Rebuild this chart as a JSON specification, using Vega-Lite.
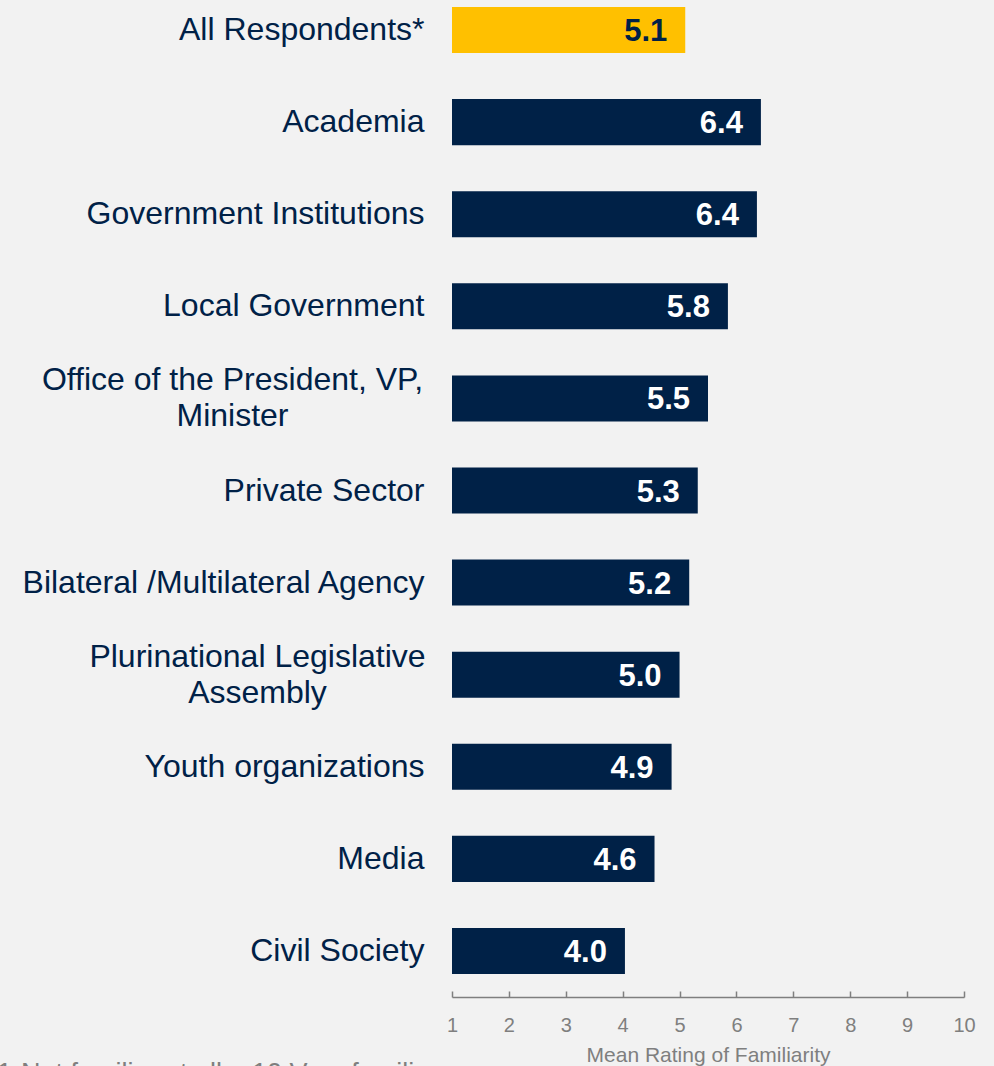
{
  "$schema": "https://vega.github.io/schema/vega-lite/v6.json",
  "width": 512,
  "height": 967,
  "autosize": "none",
  "padding": {"left": 452, "top": 7, "right": 30, "bottom": 92},
  "background": "#F2F2F2",
  "config": {"view": {"stroke": null}, "font": "Liberation Sans"},
  "title": {
    "text": "1-Not familiar at all – 10 Very familiar",
    "orient": "bottom",
    "anchor": "start",
    "frame": "group",
    "dx": -455,
    "offset": -4,
    "font": "Liberation Sans",
    "fontSize": 27,
    "fontWeight": "normal",
    "color": "#7F7F7F"
  },
  "data": {
    "values": [
      {"group": "All Respondents*", "value": 5.1, "highlight": "yes"},
      {"group": "Academia", "value": 6.43, "highlight": "no"},
      {"group": "Government Institutions", "value": 6.36, "highlight": "no"},
      {"group": "Local Government", "value": 5.85, "highlight": "no"},
      {"group": "Office of the President, VP,|Minister", "value": 5.5, "highlight": "no"},
      {"group": "Private Sector", "value": 5.32, "highlight": "no"},
      {"group": "Bilateral /Multilateral Agency", "value": 5.17, "highlight": "no"},
      {"group": "Plurinational Legislative|Assembly", "value": 5.0, "highlight": "no"},
      {"group": "Youth organizations", "value": 4.86, "highlight": "no"},
      {"group": "Media", "value": 4.56, "highlight": "no"},
      {"group": "Civil Society", "value": 4.04, "highlight": "no"}
    ]
  },
  "encoding": {
    "y": {
      "field": "group",
      "type": "nominal",
      "sort": null,
      "scale": {"paddingInner": 0.5, "paddingOuter": 0},
      "axis": {
        "title": null,
        "domain": false,
        "ticks": false,
        "labelFont": "Liberation Sans",
        "labelFontSize": 32,
        "labelColor": "#002147",
        "labelLimit": 0,
        "labelLineHeight": 36,
        "labelBaseline": "middle",
        "labelExpr": "split(datum.label, '|')",
        "labelAlign": {"condition": {"test": "indexof(datum.value, '|') >= 0", "value": "center"}, "value": "right"},
        "labelOffset": {"condition": {"test": "indexof(datum.value, '|') >= 0", "value": -18}, "value": 0},
        "labelPadding": {
          "condition": [
            {"test": "indexof(datum.value, 'Office') >= 0", "value": 220},
            {"test": "indexof(datum.value, 'Plurinational') >= 0", "value": 195}
          ],
          "value": 28
        }
      }
    }
  },
  "layer": [
    {
      "mark": {"type": "bar"},
      "encoding": {
        "x": {
          "field": "value",
          "type": "quantitative",
          "scale": {"domain": [1, 10], "zero": false, "nice": false},
          "axis": {
            "values": [1, 2, 3, 4, 5, 6, 7, 8, 9, 10],
            "format": "d",
            "offset": 23,
            "grid": false,
            "domainColor": "#7F7F7F",
            "domainWidth": 1.5,
            "tickColor": "#7F7F7F",
            "tickWidth": 1.5,
            "tickSize": -6,
            "labelFont": "Liberation Sans",
            "labelFontSize": 20,
            "labelColor": "#7F7F7F",
            "labelPadding": 24,
            "labelFlush": false,
            "title": "Mean Rating of Familiarity",
            "titleFont": "Liberation Sans",
            "titleFontSize": 21,
            "titleFontWeight": "normal",
            "titleColor": "#7F7F7F",
            "titlePadding": 9
          }
        },
        "x2": {"datum": 1},
        "color": {
          "field": "highlight",
          "type": "nominal",
          "scale": {"domain": ["yes", "no"], "range": ["#FFC000", "#002147"]},
          "legend": null
        }
      }
    },
    {
      "mark": {"type": "text", "align": "right", "baseline": "middle", "dx": -18, "dy": 2, "font": "Liberation Sans", "fontSize": 31, "fontWeight": "bold"},
      "encoding": {
        "x": {"field": "value", "type": "quantitative"},
        "text": {"field": "value", "type": "quantitative", "format": ".1f"},
        "color": {
          "field": "highlight",
          "type": "nominal",
          "scale": {"domain": ["yes", "no"], "range": ["#002147", "#FFFFFF"]},
          "legend": null
        }
      }
    }
  ],
  "resolve": {"scale": {"color": "independent"}}
}
